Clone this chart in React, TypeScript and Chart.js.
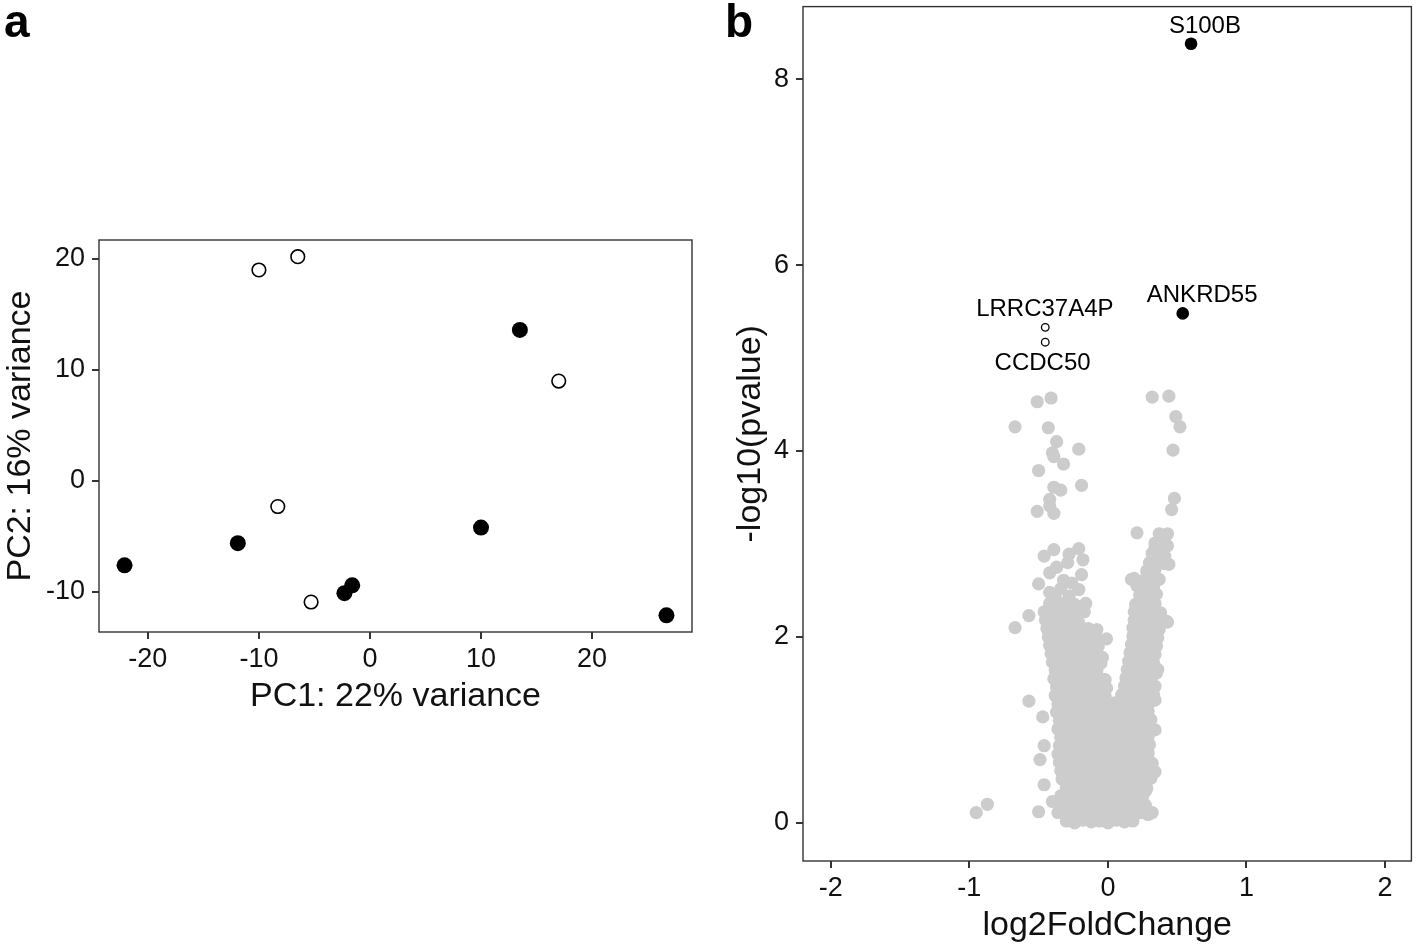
import React, { useEffect, useRef } from 'react';
import { Chart, registerables } from 'chart.js';

Chart.register(...registerables);

const FONT = "'Liberation Sans', Arial, Helvetica, sans-serif";

// ---------- Panel a: PCA ----------
const pcaFilledPC1 = [-22.1, -11.9, -2.3, -1.6, 10.0, 13.5, 26.7];
const pcaFilledPC2 = [-7.6, -5.6, -10.1, -9.4, -4.2, 13.6, -12.1];
const pcaOpenPC1 = [-10.0, -6.5, -8.3, -5.3, 17.0];
const pcaOpenPC2 = [19.0, 20.2, -2.3, -10.9, 9.0];
const pcaXTitle = 'PC1: 22% variance';
const pcaYTitle = 'PC2: 16% variance';

// ---------- Panel b: volcano ----------
const geneNames = ['S100B', 'ANKRD55', 'LRRC37A4P', 'CCDC50'];
const geneLFC = [0.60, 0.54, -0.452, -0.452];
const geneLogP = [8.38, 5.48, 5.33, 5.17];
const geneFilled = [true, true, false, false];
const geneLabelX = [0.70, 0.68, -0.455, -0.471];
const geneLabelY = [8.563, 5.675, 5.526, 4.944];
const volcanoXTitle = 'log2FoldChange';
const volcanoYTitle = '-log10(pvalue)';

// background genes: [log2FoldChange, -log10(pvalue)]
const backgroundGenes: [number, number][] = [
  [-0.30,0.02],[-0.24,0.00],[-0.18,0.03],[-0.12,0.01],[-0.06,0.02],[0.00,0.00],[0.06,0.03],[0.12,0.01],[0.18,0.02],
  [-0.36,0.11],[-0.30,0.09],[-0.24,0.12],[-0.18,0.08],[-0.12,0.10],[-0.06,0.11],[0.00,0.09],[0.06,0.12],[0.12,0.08],[0.18,0.10],[0.24,0.11],[0.29,0.09],
  [-0.33,0.20],[-0.27,0.18],[-0.21,0.21],[-0.15,0.19],[-0.09,0.17],[-0.03,0.20],[0.03,0.19],[0.09,0.21],[0.15,0.18],[0.21,0.20],[0.27,0.19],
  [-0.34,0.29],[-0.28,0.27],[-0.22,0.30],[-0.16,0.28],[-0.10,0.26],[-0.04,0.29],[0.02,0.28],[0.08,0.30],[0.14,0.27],[0.20,0.29],[0.25,0.28],
  [-0.30,0.38],[-0.24,0.36],[-0.18,0.39],[-0.12,0.37],[-0.06,0.35],[0.00,0.38],[0.06,0.37],[0.12,0.39],[0.18,0.36],[0.24,0.38],[0.28,0.37],
  [-0.33,0.47],[-0.27,0.45],[-0.21,0.48],[-0.15,0.46],[-0.09,0.44],[-0.03,0.47],[0.03,0.46],[0.09,0.48],[0.15,0.45],[0.21,0.47],[0.27,0.46],[0.31,0.48],
  [-0.34,0.56],[-0.28,0.54],[-0.22,0.57],[-0.16,0.55],[-0.10,0.53],[-0.04,0.56],[0.02,0.55],[0.08,0.57],[0.14,0.54],[0.20,0.56],[0.26,0.55],[0.32,0.57],
  [-0.35,0.65],[-0.29,0.63],[-0.23,0.66],[-0.17,0.64],[-0.11,0.62],[-0.05,0.65],[0.01,0.64],[0.07,0.66],[0.13,0.63],[0.19,0.65],[0.25,0.64],[0.30,0.66],
  [-0.36,0.74],[-0.30,0.72],[-0.24,0.75],[-0.18,0.73],[-0.12,0.71],[-0.06,0.74],[0.00,0.73],[0.06,0.75],[0.12,0.72],[0.18,0.74],[0.24,0.73],[0.29,0.75],
  [-0.35,0.83],[-0.29,0.81],[-0.23,0.84],[-0.17,0.82],[-0.11,0.80],[-0.05,0.83],[0.01,0.82],[0.07,0.84],[0.13,0.81],[0.19,0.83],[0.25,0.82],[0.30,0.84],
  [-0.34,0.92],[-0.28,0.90],[-0.22,0.93],[-0.16,0.91],[-0.10,0.89],[-0.04,0.92],[0.02,0.91],[0.08,0.93],[0.14,0.90],[0.20,0.92],[0.26,0.91],[0.29,0.93],
  [-0.36,1.01],[-0.30,0.99],[-0.24,1.02],[-0.18,1.00],[-0.12,0.98],[-0.06,1.01],[0.00,1.00],[0.06,1.02],[0.12,0.99],[0.18,1.01],[0.24,1.00],[0.30,1.02],
  [-0.35,1.10],[-0.29,1.08],[-0.23,1.11],[-0.17,1.09],[-0.11,1.07],[-0.05,1.10],[0.01,1.09],[0.07,1.11],[0.13,1.08],[0.19,1.10],[0.25,1.09],[0.31,1.11],
  [-0.37,1.19],[-0.31,1.17],[-0.25,1.20],[-0.19,1.18],[-0.13,1.16],[-0.07,1.19],[-0.01,1.18],[0.05,1.20],[0.11,1.17],[0.17,1.19],[0.23,1.18],[0.29,1.20],
  [-0.36,1.28],[-0.30,1.26],[-0.24,1.29],[-0.18,1.27],[-0.12,1.25],[-0.06,1.28],[0.00,1.27],[0.05,1.29],[0.11,1.26],[0.17,1.28],[0.23,1.27],[0.30,1.29],
  [-0.38,1.37],[-0.32,1.35],[-0.26,1.38],[-0.20,1.36],[-0.14,1.34],[-0.08,1.37],[-0.02,1.36],[0.10,1.38],[0.16,1.35],[0.22,1.37],[0.28,1.36],[0.33,1.38],
  [-0.37,1.46],[-0.31,1.44],[-0.25,1.47],[-0.19,1.45],[-0.13,1.43],[-0.07,1.46],[-0.01,1.45],[0.12,1.47],[0.18,1.44],[0.24,1.46],[0.30,1.45],[0.34,1.47],
  [-0.39,1.55],[-0.33,1.53],[-0.27,1.56],[-0.21,1.54],[-0.15,1.52],[-0.09,1.55],[-0.03,1.54],[0.13,1.56],[0.19,1.53],[0.25,1.55],[0.31,1.54],
  [-0.38,1.64],[-0.32,1.62],[-0.26,1.65],[-0.20,1.63],[-0.14,1.61],[-0.08,1.64],[0.14,1.65],[0.20,1.62],[0.26,1.64],[0.32,1.63],[0.36,1.65],
  [-0.40,1.73],[-0.34,1.71],[-0.28,1.74],[-0.22,1.72],[-0.16,1.70],[-0.10,1.73],[-0.05,1.72],[0.15,1.74],[0.21,1.71],[0.27,1.73],[0.33,1.72],
  [-0.41,1.82],[-0.35,1.80],[-0.29,1.83],[-0.23,1.81],[-0.17,1.79],[-0.11,1.82],[0.16,1.83],[0.22,1.80],[0.28,1.82],[0.34,1.81],
  [-0.42,1.91],[-0.36,1.89],[-0.30,1.92],[-0.24,1.90],[-0.18,1.88],[-0.12,1.91],[-0.07,1.90],[0.17,1.92],[0.23,1.89],[0.29,1.91],[0.35,1.90],
  [-0.43,2.00],[-0.37,1.98],[-0.31,2.01],[-0.25,1.99],[-0.19,1.97],[-0.13,2.00],[0.18,2.01],[0.24,1.98],[0.30,2.00],[0.36,1.99],
  [-0.44,2.09],[-0.38,2.07],[-0.32,2.10],[-0.26,2.08],[-0.20,2.06],[-0.14,2.09],[-0.08,2.08],[0.18,2.10],[0.24,2.07],[0.30,2.09],[0.37,2.08],
  [-0.45,2.18],[-0.39,2.16],[-0.33,2.19],[-0.27,2.17],[-0.21,2.15],[0.19,2.18],[0.25,2.16],[0.31,2.18],[0.36,2.17],
  [-0.46,2.27],[-0.40,2.25],[-0.34,2.28],[-0.28,2.26],[-0.22,2.24],[-0.17,2.27],[0.20,2.28],[0.26,2.25],[0.32,2.27],[0.38,2.26],
  [-0.42,2.36],[-0.36,2.34],[-0.30,2.37],[-0.24,2.35],[0.22,2.37],[0.28,2.34],[0.34,2.36],
  [-0.38,2.43],[-0.28,2.44],[0.23,2.45],[0.29,2.43],[0.35,2.46],
  [0.21,2.55],[0.27,2.52],[0.33,2.54],
  [0.19,2.63],[0.26,2.61],[0.32,2.64],[0.37,2.62],
  [0.28,2.71],[0.34,2.73],
  [0.30,2.80],[0.36,2.82],[0.41,2.79],
  [0.32,2.90],[0.38,2.92],
  [0.34,3.01],[0.40,2.99],[0.37,3.11],[0.42,3.09],
  // sparse upper-left
  [-0.51,4.53],[-0.41,4.57],[-0.67,4.26],[-0.43,4.25],[-0.37,4.10],[-0.21,4.02],[-0.40,3.98],[-0.39,3.94],
  [-0.32,3.86],[-0.50,3.79],[-0.39,3.61],[-0.34,3.58],[-0.19,3.63],[-0.42,3.48],[-0.42,3.41],[-0.51,3.35],[-0.39,3.33],
  // sparse upper-right
  [0.32,4.58],[0.44,4.59],[0.49,4.37],[0.52,4.26],[0.47,4.01],[0.48,3.49],[0.46,3.37],[0.21,3.12],[0.43,3.11],
  [0.39,3.09],[0.34,2.97],[0.43,2.98],[0.41,2.87],[0.44,2.78],[0.32,2.76],[0.17,2.62],[0.25,2.55],[0.20,2.35],
  [0.19,2.27],[0.42,2.17],[0.43,2.16],
  // left lobe fringe
  [-0.39,2.94],[-0.46,2.87],[-0.28,2.89],[-0.21,2.95],[-0.18,2.83],[-0.29,2.80],[-0.42,2.69],[-0.19,2.67],
  [-0.50,2.57],[-0.32,2.61],[-0.21,2.51],[-0.42,2.48],[-0.16,2.36],[-0.57,2.23],[-0.67,2.10],[-0.10,2.02],
  [-0.01,1.98],[-0.09,2.02],[-0.04,1.78],[-0.02,1.54],[-0.34,2.52],[-0.26,2.58],[-0.37,2.75],
  // lower outliers
  [-0.57,1.31],[-0.47,1.14],[-0.46,0.83],[-0.49,0.68],[-0.46,0.41],[-0.40,0.23],[-0.50,0.12],[-0.87,0.20],[-0.95,0.11],
  [0.34,0.55],[0.32,0.64],[0.34,1.00],[0.30,1.10],[0.34,1.32],[0.35,1.61],[0.32,0.11],[0.27,0.34],
];

function fixAxis(size: number) {
  return (scale: any) => {
    if (scale.isHorizontal()) scale.height = size;
    else scale.width = size;
    scale.paddingTop = 0;
    scale.paddingBottom = 0;
    scale.paddingLeft = 0;
    scale.paddingRight = 0;
  };
}

const panelBorder = {
  id: 'panelBorder',
  afterDatasetsDraw(chart: any) {
    const { ctx, chartArea: a } = chart;
    ctx.save();
    ctx.strokeStyle = '#333333';
    ctx.lineWidth = 1.4;
    ctx.strokeRect(a.left, a.top, a.right - a.left, a.bottom - a.top);
    ctx.restore();
  },
};

const geneLabels = {
  id: 'geneLabels',
  afterDatasetsDraw(chart: any) {
    const { ctx, scales } = chart;
    ctx.save();
    ctx.font = `24px ${FONT}`;
    ctx.fillStyle = '#000000';
    ctx.textAlign = 'center';
    ctx.textBaseline = 'middle';
    geneNames.forEach((name, i) => {
      ctx.fillText(name, scales.x.getPixelForValue(geneLabelX[i]), scales.y.getPixelForValue(geneLabelY[i]));
    });
    ctx.restore();
  },
};

function axisCommon(opts: {
  min: number; max: number; step: number; size: number; title: string;
  tickPad: number; titlePad: any;
}) {
  return {
    type: 'linear' as const,
    min: opts.min,
    max: opts.max,
    afterFit: fixAxis(opts.size),
    border: { display: false },
    grid: {
      display: true,
      drawOnChartArea: false,
      drawTicks: true,
      tickLength: 7,
      lineWidth: 2,
      color: '#333333',
    },
    ticks: {
      stepSize: opts.step,
      includeBounds: false,
      autoSkip: false,
      maxRotation: 0,
      padding: opts.tickPad,
      color: '#111111',
      font: { family: FONT, size: 27 },
    },
    title: {
      display: true,
      text: opts.title,
      color: '#111111',
      font: { family: FONT, size: 34 },
      padding: opts.titlePad,
    },
  };
}

export default function App() {
  const refA = useRef<HTMLCanvasElement>(null);
  const refB = useRef<HTMLCanvasElement>(null);

  useEffect(() => {
    Chart.defaults.font.family = FONT;

    const chartA = new Chart(refA.current!, {
      type: 'scatter',
      data: {
        datasets: [
          {
            data: pcaFilledPC1.map((x, i) => ({ x, y: pcaFilledPC2[i] })),
            backgroundColor: '#000000',
            borderWidth: 0,
            pointRadius: 8,
          },
          {
            data: pcaOpenPC1.map((x, i) => ({ x, y: pcaOpenPC2[i] })),
            backgroundColor: '#ffffff',
            borderColor: '#000000',
            borderWidth: 1.6,
            pointRadius: 6.8,
          },
        ],
      },
      options: {
        animation: false,
        responsive: false,
        devicePixelRatio: 1,
        layout: { padding: { left: 0, top: 240, right: 28, bottom: 225 } },
        plugins: { legend: { display: false }, tooltip: { enabled: false } },
        scales: {
          x: axisCommon({ min: -24.4, max: 29.0, step: 10, size: 90, title: pcaXTitle, tickPad: 4, titlePad: { top: 0, bottom: 5 } }),
          y: axisCommon({ min: -13.6, max: 21.7, step: 10, size: 99, title: pcaYTitle, tickPad: 7, titlePad: { top: 0, bottom: 0 } }),
        },
      },
      plugins: [panelBorder],
    } as any);

    const chartB = new Chart(refB.current!, {
      type: 'scatter',
      data: {
        datasets: [
          {
            data: backgroundGenes.map(([x, y]) => ({ x, y })),
            backgroundColor: '#cccccc',
            borderWidth: 0,
            pointRadius: 6.6,
          },
          {
            data: geneLFC.map((x, i) => ({ x, y: geneLogP[i] })).filter((_, i) => geneFilled[i]),
            backgroundColor: '#000000',
            borderWidth: 0,
            pointRadius: 6.3,
          },
          {
            data: geneLFC.map((x, i) => ({ x, y: geneLogP[i] })).filter((_, i) => !geneFilled[i]),
            backgroundColor: '#ffffff',
            borderColor: '#000000',
            borderWidth: 1.3,
            pointRadius: 3.8,
          },
        ],
      },
      options: {
        animation: false,
        responsive: false,
        devicePixelRatio: 1,
        layout: { padding: { left: 0, top: 4, right: 4, bottom: 0 } },
        plugins: { legend: { display: false }, tooltip: { enabled: false } },
        scales: {
          x: axisCommon({ min: -2.2, max: 2.19, step: 1, size: 86, title: volcanoXTitle, tickPad: 4, titlePad: { top: 0, bottom: 1 } }),
          y: axisCommon({ min: -0.41, max: 8.78, step: 2, size: 83, title: volcanoYTitle, tickPad: 7, titlePad: { top: 10, bottom: 0 } }),
        },
      },
      plugins: [geneLabels, panelBorder],
    } as any);

    return () => {
      chartA.destroy();
      chartB.destroy();
    };
  }, []);

  const letter: React.CSSProperties = {
    position: 'absolute',
    top: -2,
    font: `bold 46px ${FONT}`,
    lineHeight: '46px',
    color: '#000',
    margin: 0,
  };

  return (
    <div style={{ position: 'absolute', left: 0, top: 0, width: 1418, height: 947, background: '#fff', overflow: 'hidden' }}>
      <canvas ref={refA} width={720} height={947} style={{ position: 'absolute', left: 0, top: 0, width: 720, height: 947, display: 'block' }} />
      <canvas ref={refB} width={698} height={947} style={{ position: 'absolute', left: 720, top: 0, width: 698, height: 947, display: 'block' }} />
      <div style={{ ...letter, left: 4 }}>a</div>
      <div style={{ ...letter, left: 725 }}>b</div>
    </div>
  );
}
